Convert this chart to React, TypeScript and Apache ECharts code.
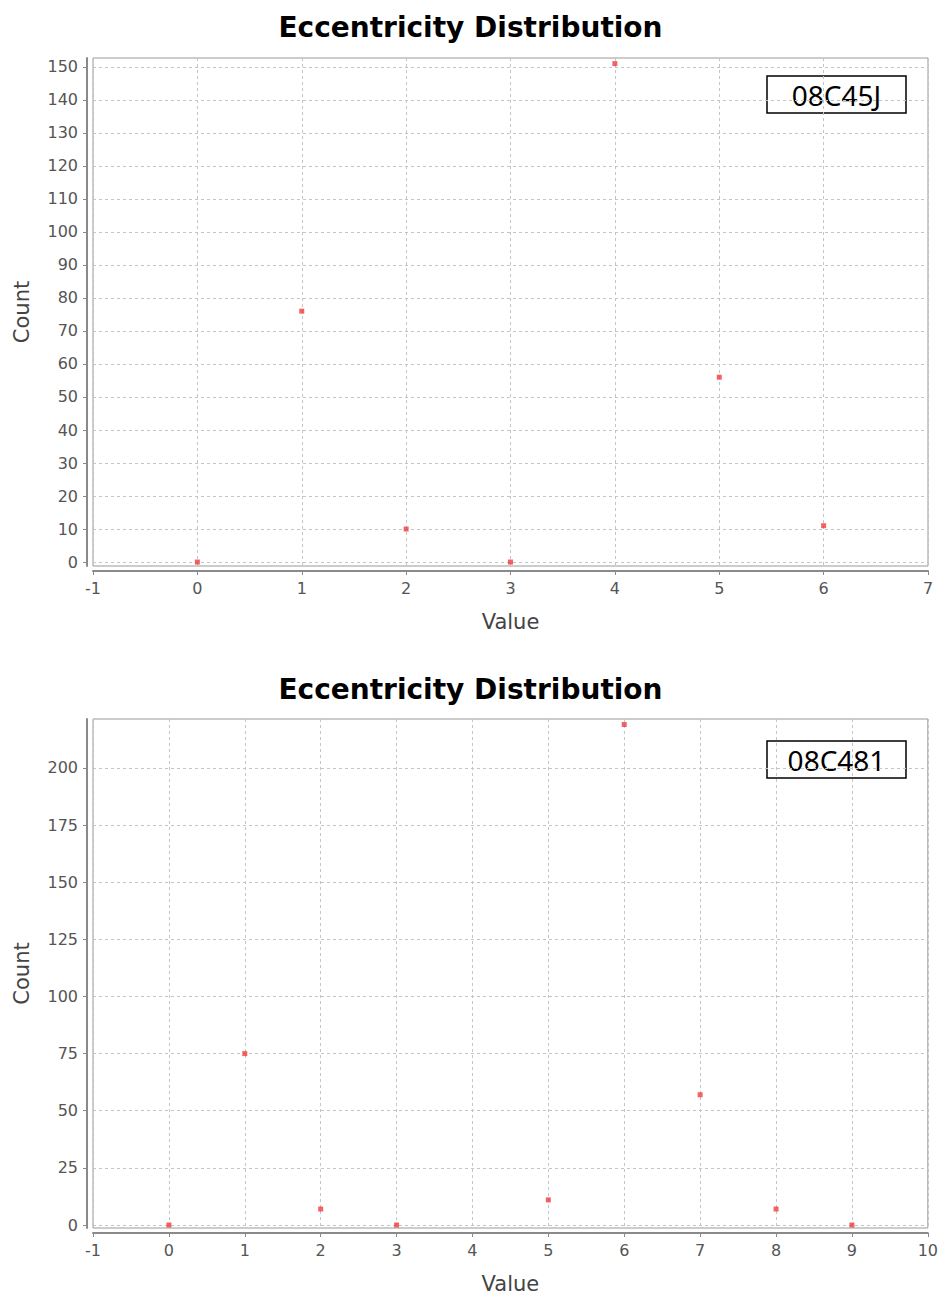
import React, { useEffect, useRef } from "react";
import * as echarts from "echarts";

const chartTitle = "Eccentricity Distribution";
const xAxisName = "Value";
const yAxisName = "Count";

const topLabel = "08C45J";
const topValues = [0, 1, 2, 3, 4, 5, 6];
const topCounts = [0, 76, 10, 0, 151, 56, 11];
const topYTicks = [0, 10, 20, 30, 40, 50, 60, 70, 80, 90, 100, 110, 120, 130, 140, 150];

const bottomLabel = "08C481";
const bottomValues = [0, 1, 2, 3, 5, 6, 7, 8, 9];
const bottomCounts = [0, 75, 7, 0, 11, 219, 57, 7, 0];
const bottomYTicks = [0, 25, 50, 75, 100, 125, 150, 175, 200];

const FONT = "DejaVu Sans";

function xAxisCfg(gridIndex: number, max: number) {
  return {
    type: "value",
    gridIndex,
    min: -1,
    max,
    interval: 1,
    offset: 5,
    name: xAxisName,
    nameLocation: "middle",
    nameGap: 40,
    nameTextStyle: { fontFamily: FONT, fontSize: 21, color: "#444" },
    axisLine: { show: true, onZero: false, lineStyle: { color: "#8a8a8a", width: 2 } },
    axisTick: { show: true, length: 4, lineStyle: { color: "#8a8a8a" } },
    axisLabel: { fontFamily: FONT, fontSize: 16, color: "#555", margin: 9 },
    splitLine: { show: true, lineStyle: { color: "#c4c4c4", type: [3, 3], width: 1 } },
  };
}

function yAxisCfg(gridIndex: number, min: number, max: number, ticks: number[]) {
  return {
    type: "value",
    gridIndex,
    min,
    max,
    offset: 6,
    name: yAxisName,
    nameLocation: "middle",
    nameGap: 55,
    nameTextStyle: { fontFamily: FONT, fontSize: 21, color: "#444" },
    axisLine: { show: true, onZero: false, lineStyle: { color: "#8a8a8a", width: 2 } },
    axisTick: { show: true, length: 4, customValues: ticks, lineStyle: { color: "#8a8a8a" } },
    axisLabel: { fontFamily: FONT, fontSize: 16, color: "#555", margin: 9, customValues: ticks },
    splitLine: { show: true, lineStyle: { color: "#c4c4c4", type: [3, 3], width: 1 } },
  };
}

function labelBox(text: string, x: number, y: number) {
  return {
    type: "group",
    x,
    y,
    children: [
      {
        type: "rect",
        shape: { x: 0, y: 0, width: 139, height: 37 },
        style: { fill: "#fff", stroke: "#000", lineWidth: 1.5 },
      },
      {
        type: "text",
        x: 69.5,
        y: 19,
        style: {
          text,
          fontFamily: "Noto Sans",
          fontSize: 28,
          fill: "#000",
          textAlign: "center",
          textVerticalAlign: "middle",
        },
      },
    ],
  };
}

export default function App() {
  const ref = useRef<HTMLDivElement>(null);
  useEffect(() => {
    document.body.style.margin = "0";
    if (!ref.current) return;
    const chart = echarts.init(ref.current, undefined, { renderer: "svg" });
    chart.setOption({
      animation: false,
      backgroundColor: "#fff",
      title: [
        {
          text: chartTitle,
          left: "center",
          top: 8,
          textStyle: { fontFamily: FONT, fontWeight: "bold", fontSize: 28, color: "#000" },
        },
        {
          text: chartTitle,
          left: "center",
          top: 670,
          textStyle: { fontFamily: FONT, fontWeight: "bold", fontSize: 28, color: "#000" },
        },
      ],
      grid: [
        { left: 93, right: 13, top: 58, height: 508, show: true, borderColor: "#999", borderWidth: 1, backgroundColor: "#fff" },
        { left: 93, right: 13, top: 719, height: 509, show: true, borderColor: "#999", borderWidth: 1, backgroundColor: "#fff" },
      ],
      xAxis: [xAxisCfg(0, 7), xAxisCfg(1, 10)],
      yAxis: [yAxisCfg(0, -1.2, 152.7, topYTicks), yAxisCfg(1, -1.3, 221.4, bottomYTicks)],
      series: [
        {
          type: "scatter",
          xAxisIndex: 0,
          yAxisIndex: 0,
          symbol: "rect",
          symbolSize: 5,
          itemStyle: { color: "#f03c3c" },
          data: topValues.map((v, i) => [v, topCounts[i]]),
        },
        {
          type: "scatter",
          xAxisIndex: 1,
          yAxisIndex: 1,
          symbol: "rect",
          symbolSize: 5,
          itemStyle: { color: "#f03c3c" },
          data: bottomValues.map((v, i) => [v, bottomCounts[i]]),
        },
      ],
      graphic: [labelBox(topLabel, 767, 76), labelBox(bottomLabel, 767, 741)],
    });
    return () => chart.dispose();
  }, []);
  return <div ref={ref} style={{ width: 941, height: 1299 }} />;
}
